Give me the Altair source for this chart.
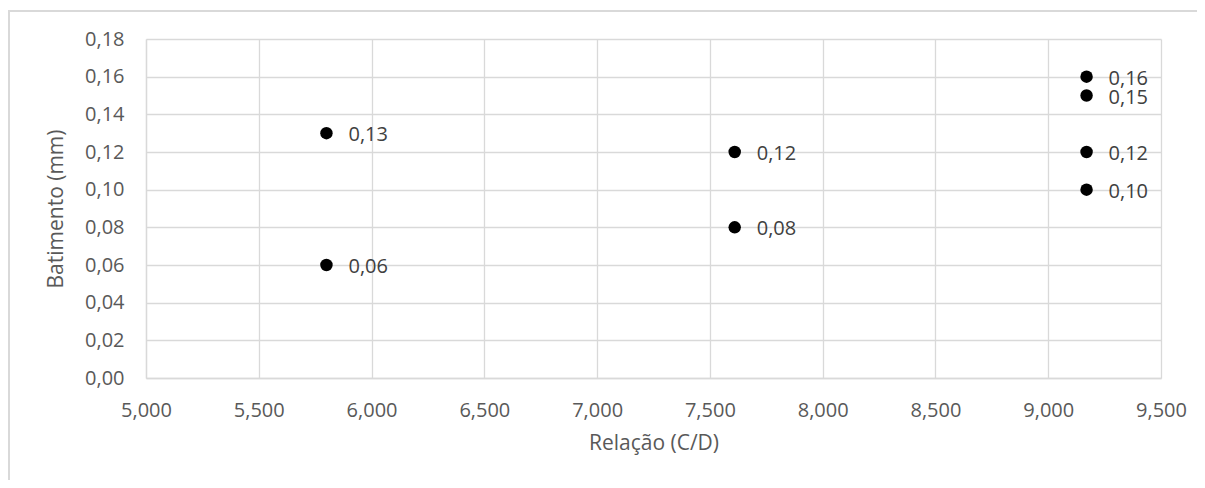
import altair as alt
import pandas as pd

relacao = [5.8, 5.8, 7.61, 7.61, 9.17, 9.17, 9.17, 9.17]
batimento = [0.13, 0.06, 0.12, 0.08, 0.16, 0.15, 0.12, 0.10]
x_ticks = [5.0, 5.5, 6.0, 6.5, 7.0, 7.5, 8.0, 8.5, 9.0, 9.5]
y_ticks = [0.0, 0.02, 0.04, 0.06, 0.08, 0.10, 0.12, 0.14, 0.16, 0.18]

df = pd.DataFrame({"relacao": relacao, "batimento": batimento})

W, H = 1015, 339
PL, PT = 138, 31
TOTW, TOTH = 1189, 472

FONT = "Open Sans"
GRID = "#d9d9d9"

x = alt.X("relacao:Q", scale=alt.Scale(domain=[5.0, 9.5], nice=False, zero=False),
          axis=alt.Axis(values=x_ticks,
                        labelExpr="replace(format(datum.value, '.3f'), '.', ',')",
                        title="Relação (C/D)", grid=True, ticks=False,
                        labelFlush=False, labelOverlap=False, tickCount=10,
                        labelPadding=22, titlePadding=12))
y = alt.Y("batimento:Q", scale=alt.Scale(domain=[0, 0.18], nice=False, zero=False),
          axis=alt.Axis(values=y_ticks,
                        labelExpr="replace(format(datum.value, '.2f'), '.', ',')",
                        title="Batimento (mm)", grid=True, ticks=False,
                        labelFlush=False, labelOverlap=False, tickCount=10,
                        labelPadding=22, titlePadding=18))

points = alt.Chart(df).mark_circle(size=155, color="#000000", opacity=1).encode(x=x, y=y)

labels = alt.Chart(df).transform_calculate(
    lab="replace(format(datum.batimento, '.2f'), '.', ',')"
).mark_text(align="left", baseline="middle", dx=22, dy=2, font=FONT, fontSize=20,
            color="#404040").encode(x=x, y=y, text="lab:N")

frame_top = alt.Chart(df).mark_rule(stroke=GRID, strokeWidth=2).encode(
    x=alt.value(-PL), x2=alt.value(TOTW - PL + 10), y=alt.value(-PT + 3))
frame_left = alt.Chart(df).mark_rule(stroke=GRID, strokeWidth=2).encode(
    x=alt.value(-PL + 1), y=alt.value(-PT + 2), y2=alt.value(TOTH - PT + 10))

title = alt.Chart(df).mark_text(align="center", baseline="bottom", font=FONT, fontSize=21,
                                color="#000000").encode(
    x=alt.value(600 - 8 - PL), y=alt.value(-PT - 4), text=alt.value("tratamento térmico."))

chart = alt.layer(points, labels, frame_top, frame_left, title).properties(
    width=W, height=H,
    autosize=alt.AutoSizeParams(type="none"),
    padding={"left": PL, "top": PT, "right": TOTW - PL - W, "bottom": TOTH - PT - H},
).configure_view(stroke=None).configure_axis(
    labelFont=FONT, titleFont=FONT, labelFontSize=20, titleFontSize=21,
    labelColor="#595959", titleColor="#595959", titleFontWeight="normal",
    gridColor=GRID, gridWidth=1.3, domainColor=GRID, domainWidth=1.3,
)

chart.save("out.html", embed_options={"renderer": "svg", "actions": False})
